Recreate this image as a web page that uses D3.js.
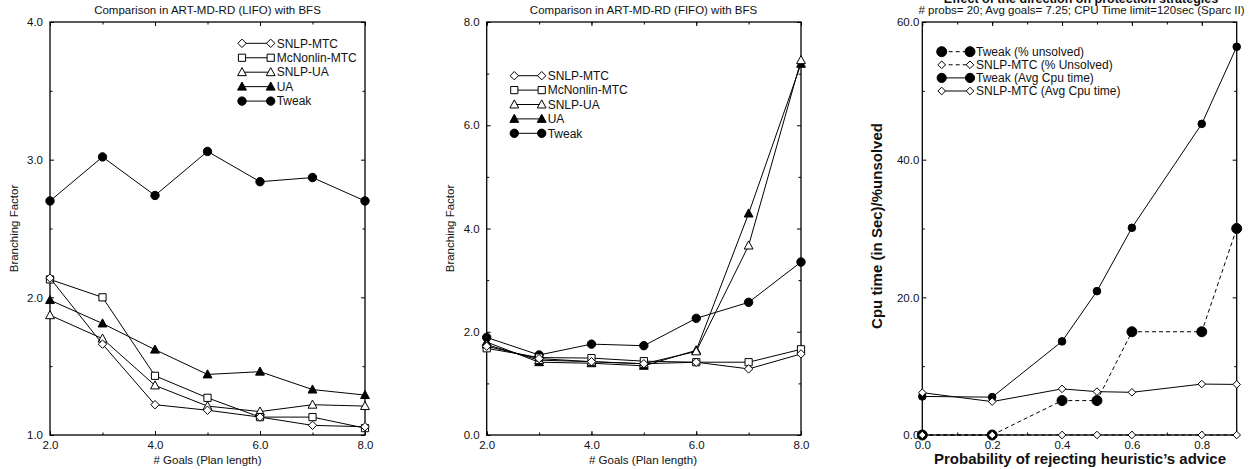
<!DOCTYPE html>
<html><head><meta charset="utf-8">
<script src="https://cdn.jsdelivr.net/npm/d3@7/dist/d3.min.js"></script>
<style>
body{margin:0;background:#fff;}
svg text{font-family:"Liberation Sans",Arial,Helvetica,sans-serif;fill:#111;}
</style></head>
<body>
<svg id="c" width="1257" height="469"></svg>
<script>
// ---------- DATA ----------
const goals = [2, 3, 4, 5, 6, 7, 8];
const xTicksGoals = [2, 4, 6, 8];

// Panel 1: LIFO
const lifoSnlpMtc  = [2.14, 1.66, 1.22, 1.18, 1.13, 1.07, 1.06];
const lifoMcNonlin = [2.13, 2.00, 1.43, 1.27, 1.13, 1.13, 1.05];
const lifoSnlpUa   = [1.87, 1.70, 1.36, 1.21, 1.17, 1.22, 1.21];
const lifoUa       = [1.98, 1.81, 1.62, 1.44, 1.46, 1.33, 1.29];
const lifoTweak    = [2.70, 3.02, 2.74, 3.06, 2.84, 2.87, 2.70];
const lifoYTicks   = [1.0, 2.0, 3.0, 4.0];

// Panel 2: FIFO
const fifoSnlpMtc  = [1.72, 1.48, 1.42, 1.38, 1.41, 1.28, 1.57];
const fifoMcNonlin = [1.68, 1.50, 1.49, 1.43, 1.41, 1.41, 1.66];
const fifoSnlpUa   = [1.75, 1.45, 1.42, 1.38, 1.62, 3.67, 7.26];
const fifoUa       = [1.80, 1.41, 1.39, 1.34, 1.64, 4.29, 7.19];
const fifoTweak    = [1.89, 1.55, 1.76, 1.73, 2.26, 2.57, 3.35];
const fifoYTicks   = [0.0, 2.0, 4.0, 6.0, 8.0];

// Panel 3: rejecting heuristic advice
const probs          = [0.0, 0.2, 0.4, 0.5, 0.6, 0.8, 0.9];
const tweakUnsolved  = [0, 0, 5.0, 5.0, 15.0, 15.0, 30.0];
const snlpUnsolved   = [0, 0, 0, 0, 0, 0, 0];
const tweakCpu       = [5.6, 5.5, 13.6, 20.9, 30.1, 45.2, 56.4];
const snlpCpu        = [6.15, 4.85, 6.7, 6.3, 6.2, 7.4, 7.35];
const probXTicks     = [0.0, 0.2, 0.4, 0.6, 0.8];
const cpuYTicks      = [0.0, 20.0, 40.0, 60.0];

const namesBF = ["SNLP-MTC", "McNonlin-MTC", "SNLP-UA", "UA", "Tweak"];
const names3  = ["Tweak (% unsolved)", "SNLP-MTC (% Unsolved)", "Tweak (Avg Cpu time)", "SNLP-MTC (Avg Cpu time)"];

// ---------- DRAWING ----------
const svg = d3.select("#c");

function symPath(type, r) {
  if (type === "circle") { const p = d3.path(); p.arc(0, 0, r, 0, 2 * Math.PI); p.closePath(); return p.toString(); }
  if (type === "square") return `M${-r},${-r}H${r}V${r}H${-r}Z`;
  if (type === "diamond") return `M0,${-r}L${r},0L0,${r}L${-r},0Z`;
  if (type === "triangle") { const h = r * 1.1; return `M0,${-h}L${r * 1.05},${h * 0.75}L${-r * 1.05},${h * 0.75}Z`; }
  return "";
}

function drawMarker(g, type, filled, r, x, y) {
  g.append("path").attr("d", symPath(type, r))
    .attr("transform", `translate(${x},${y})`)
    .attr("fill", filled ? "#000" : "#fff")
    .attr("stroke", "#000").attr("stroke-width", 1);
}

function frame(g, x, y, minorX, minorY, majorX, majorY, fmtX, fmtY, yLabelGap) {
  const [x0, x1] = x.range(), [y0, y1] = y.range();
  const tk = 2.5, TK = 4;
  g.append("g").attr("transform", `translate(0,${y0})`)
    .call(d3.axisBottom(x).tickValues(minorX).tickSize(-tk).tickFormat(""));
  g.append("g").attr("transform", `translate(0,${y1})`)
    .call(d3.axisTop(x).tickValues(minorX).tickSize(-tk).tickFormat(""));
  g.append("g").attr("transform", `translate(${x0},0)`)
    .call(d3.axisLeft(y).tickValues(minorY).tickSize(-tk).tickFormat(""));
  g.append("g").attr("transform", `translate(${x1},0)`)
    .call(d3.axisRight(y).tickValues(minorY).tickSize(-tk).tickFormat(""));
  const bx = g.append("g").attr("transform", `translate(0,${y0})`)
    .call(d3.axisBottom(x).tickValues(majorX).tickSize(-TK).tickPadding(6).tickFormat(fmtX));
  g.append("g").attr("transform", `translate(0,${y1})`)
    .call(d3.axisTop(x).tickValues(majorX).tickSize(-TK).tickFormat(""));
  g.append("g").attr("transform", `translate(${x0},0)`)
    .call(d3.axisLeft(y).tickValues(majorY).tickSize(-TK).tickPadding(yLabelGap).tickFormat(fmtY));
  g.append("g").attr("transform", `translate(${x1},0)`)
    .call(d3.axisRight(y).tickValues(majorY).tickSize(-TK).tickFormat(""));
  g.selectAll(".domain").remove();
  g.selectAll(".tick line").attr("stroke", "#000").attr("stroke-width", 1);
  g.selectAll(".tick text").attr("font-size", "11.5px").attr("fill", "#222")
    .attr("font-family", '"Liberation Sans",Arial,sans-serif');
  bx.selectAll(".tick text").attr("dy", "0.71em");
  g.append("rect").attr("x", x0).attr("y", y1).attr("width", x1 - x0).attr("height", y0 - y1)
    .attr("fill", "none").attr("stroke", "#000").attr("stroke-width", 1.3);
}

function series(g, x, y, xs, ys, type, filled, r, dashed) {
  const line = d3.line().x((d, i) => x(xs[i])).y(d => y(d));
  g.append("path").datum(ys).attr("d", line).attr("fill", "none")
    .attr("stroke", "#000").attr("stroke-width", 1)
    .attr("stroke-dasharray", dashed ? "4,3" : null);
  ys.forEach((v, i) => drawMarker(g, type, filled, r, x(xs[i]), y(v)));
}

function legend(g, x0, x1, yStart, dy, items) {
  items.forEach((it, i) => {
    const yy = yStart + i * dy;
    g.append("line").attr("x1", x0).attr("x2", x1).attr("y1", yy).attr("y2", yy)
      .attr("stroke", "#000").attr("stroke-width", 1)
      .attr("stroke-dasharray", it.dashed ? "4,3" : null);
    drawMarker(g, it.type, it.filled, it.r, x0, yy);
    drawMarker(g, it.type, it.filled, it.r, x1, yy);
    g.append("text").attr("x", x1 + 6).attr("y", yy + 4.2).attr("font-size", "12px").text(it.name);
  });
}

const bfStyles = [
  {type: "diamond", filled: false, r: 4.2},
  {type: "square", filled: false, r: 3.6},
  {type: "triangle", filled: false, r: 4.2},
  {type: "triangle", filled: true, r: 4.2},
  {type: "circle", filled: true, r: 4.2}
];
const fmt1 = d3.format(".1f");

// ---- Panel 1 ----
{
  const g = svg.append("g");
  const x = d3.scaleLinear().domain([2, 8]).range([50, 365]);
  const y = d3.scaleLinear().domain([1, 4]).range([435, 22]);
  frame(g, x, y, goals, [1.5, 2.5, 3.5], xTicksGoals, lifoYTicks, fmt1, fmt1, 7);
  const data = [lifoSnlpMtc, lifoMcNonlin, lifoSnlpUa, lifoUa, lifoTweak];
  [4, 3, 2, 1, 0].forEach(k => series(g, x, y, goals, data[k], bfStyles[k].type, bfStyles[k].filled, bfStyles[k].r, false));
  legend(g, 242, 270.7, 43.3, 14.45, namesBF.map((n, i) => Object.assign({name: n}, bfStyles[i])));
  g.append("text").attr("x", 207.5).attr("y", 13.5).attr("text-anchor", "middle").attr("font-size", "11.5px")
    .text("Comparison in ART-MD-RD (LIFO) with BFS");
  g.append("text").attr("x", 207.5).attr("y", 464).attr("text-anchor", "middle").attr("font-size", "11.5px")
    .text("# Goals (Plan length)");
  g.append("text").attr("transform", "translate(18,228.5) rotate(-90)").attr("text-anchor", "middle").attr("font-size", "11.5px")
    .text("Branching Factor");
}

// ---- Panel 2 ----
{
  const g = svg.append("g");
  const x = d3.scaleLinear().domain([2, 8]).range([486.7, 801]);
  const y = d3.scaleLinear().domain([0, 8]).range([435, 22]);
  frame(g, x, y, goals, [1, 3, 5, 7], xTicksGoals, fifoYTicks, fmt1, fmt1, 7);
  const data = [fifoSnlpMtc, fifoMcNonlin, fifoSnlpUa, fifoUa, fifoTweak];
  [4, 3, 2, 1, 0].forEach(k => series(g, x, y, goals, data[k], bfStyles[k].type, bfStyles[k].filled, bfStyles[k].r, false));
  legend(g, 514.3, 541.7, 75.7, 14.4, namesBF.map((n, i) => Object.assign({name: n}, bfStyles[i])));
  g.append("text").attr("x", 643.5).attr("y", 13.5).attr("text-anchor", "middle").attr("font-size", "11.5px")
    .text("Comparison in ART-MD-RD (FIFO) with BFS");
  g.append("text").attr("x", 643).attr("y", 464).attr("text-anchor", "middle").attr("font-size", "11.5px")
    .text("# Goals (Plan length)");
  g.append("text").attr("transform", "translate(454,228.5) rotate(-90)").attr("text-anchor", "middle").attr("font-size", "11.5px")
    .text("Branching Factor");
}

// ---- Panel 3 ----
{
  const g = svg.append("g");
  const x = d3.scaleLinear().domain([0, 0.9]).range([922.3, 1236.7]);
  const y = d3.scaleLinear().domain([0, 60]).range([435, 22]);
  const minorP = d3.range(1, 9).map(i => i / 10);
  frame(g, x, y, minorP, [10, 30, 50], probXTicks, cpuYTicks, fmt1, fmt1, 3);
  series(g, x, y, probs, tweakUnsolved, "circle", true, 5, true);
  series(g, x, y, probs, snlpUnsolved, "diamond", false, 3.8, true);
  series(g, x, y, probs, tweakCpu, "circle", true, 3.8, false);
  series(g, x, y, probs, snlpCpu, "diamond", false, 3.8, false);
  legend(g, 941.7, 970, 51.7, 13.1, [
    {name: names3[0], type: "circle", filled: true, r: 5, dashed: true},
    {name: names3[1], type: "diamond", filled: false, r: 3.8, dashed: true},
    {name: names3[2], type: "circle", filled: true, r: 4.6, dashed: false},
    {name: names3[3], type: "diamond", filled: false, r: 3.8, dashed: false}
  ]);
  g.append("text").attr("x", 1081).attr("y", 2.5).attr("text-anchor", "middle").attr("font-size", "12.5px").attr("font-weight", "bold")
    .text("Effect of the direction on protection strategies");
  g.append("text").attr("x", 1081.5).attr("y", 13.5).attr("text-anchor", "middle").attr("font-size", "11.5px")
    .text("# probs= 20; Avg goals= 7.25; CPU Time limit=120sec (Sparc II)");
  g.append("text").attr("x", 1080).attr("y", 463.5).attr("text-anchor", "middle").attr("font-size", "15px").attr("font-weight", "bold")
    .text("Probability of rejecting heuristic\u2019s advice");
  g.append("text").attr("transform", "translate(882,226) rotate(-90)").attr("text-anchor", "middle").attr("font-size", "15px").attr("font-weight", "bold")
    .text("Cpu time (in Sec)/%unsolved");
}
</script>
</body></html>
